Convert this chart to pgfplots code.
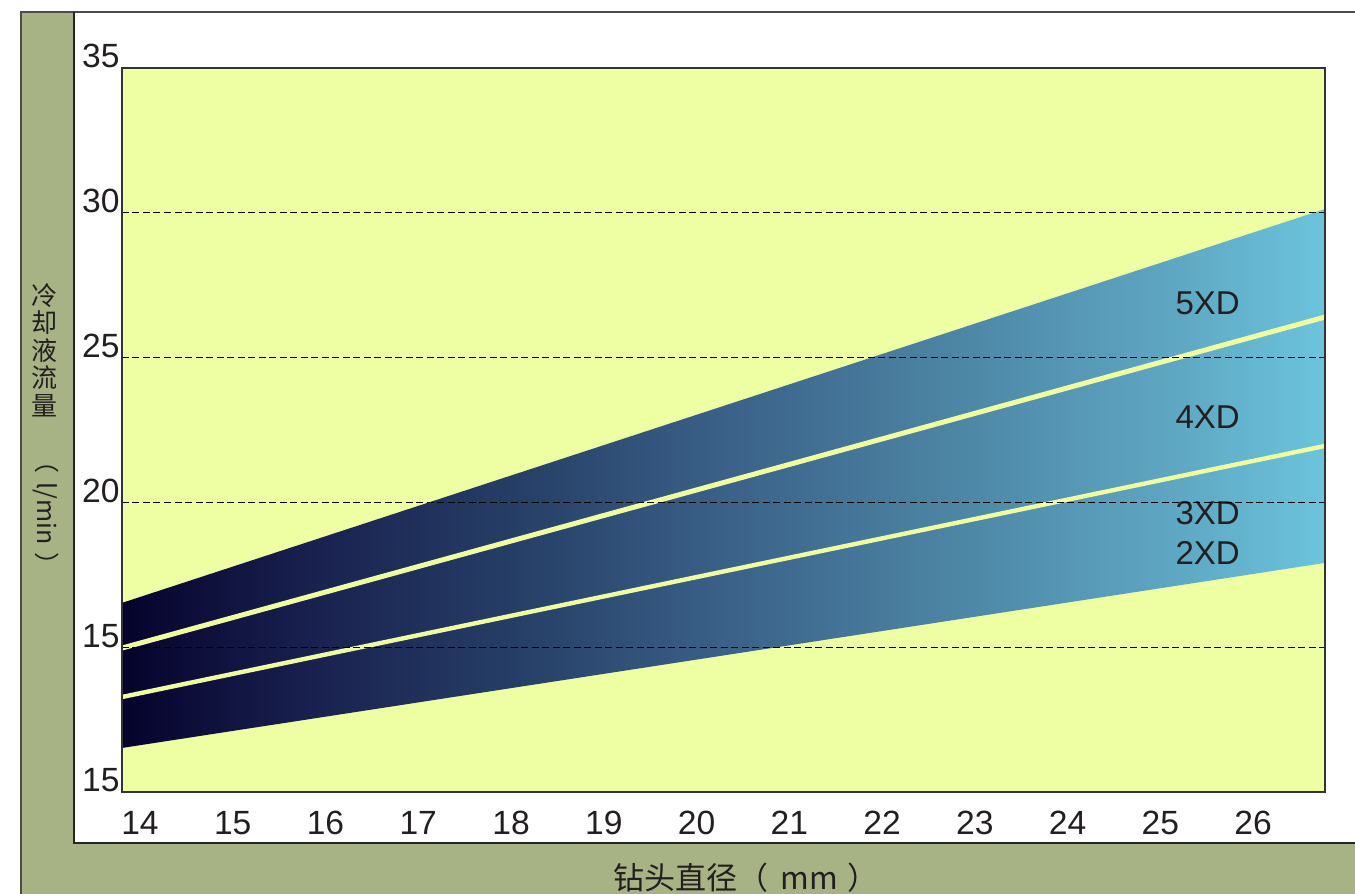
\documentclass[border=0pt]{standalone}
\usepackage{fontspec}
\setmainfont{Liberation Sans}
\newfontfamily\cjk{Noto Sans CJK SC}
\usepackage{pgfplots}
\pgfplotsset{compat=1.18}

\definecolor{frameolive}{HTML}{A8B385}
\definecolor{plotbg}{HTML}{EEFEA2}
\definecolor{sepline}{HTML}{F0FCA0}
\definecolor{ink}{HTML}{231F20}
% band gradient, dark navy -> light cyan
\definecolor{c0}{HTML}{05032C}
\definecolor{c1}{HTML}{1A2250}
\definecolor{c2}{HTML}{263F66}
\definecolor{c3}{HTML}{3A6088}
\definecolor{c4}{HTML}{4A80A0}
\definecolor{c5}{HTML}{5FA8C4}
\definecolor{c6}{HTML}{6CC4DC}
\pgfdeclarehorizontalshading{bandshade}{100bp}{color(0bp)=(c0); color(25bp)=(c0);
  color(33.2bp)=(c1); color(41.5bp)=(c2); color(49.8bp)=(c3); color(58.2bp)=(c4);
  color(69bp)=(c5); color(75bp)=(c6); color(100bp)=(c6)}

\begin{document}
\begin{tikzpicture}
\useasboundingbox (0,0) rectangle (677.5pt,447pt);
\fill[white] (0,0) rectangle (677.5pt,447pt);
% frame
\fill[frameolive] (10.5pt,0) rectangle (677.5pt,441pt);
\fill[white] (37pt,25.5pt) rectangle (677.5pt,441pt);
\draw[black!70, line width=0.6pt] (10.5pt,0) -- (10.5pt,441pt) -- (677.5pt,441pt);
\draw[black!85, line width=0.6pt] (37pt,441pt) -- (37pt,25.5pt) -- (677.5pt,25.5pt);

\begin{axis}[
    at={(61pt,51pt)}, anchor=south west,
    scale only axis,
    width=601.5pt, height=362pt,
    xmin=13.806, xmax=26.776,
    ymin=10, ymax=35,
    xtick={14,...,26},
    ytick={10,15,20,25,30,35},
    yticklabels={15,15,20,25,30,35}, % original labels the bottom one 15 as well
    axis background/.style={fill=plotbg},
    major tick length=0pt,
    ymajorgrids,
    grid style={black, line width=0.5pt, dash pattern=on 3.5pt off 1.75pt},
    axis on top,
    axis line style={black!80, line width=0.75pt},
    tick label style={font=\fontsize{16.8}{18}\selectfont, text=ink},
    /pgf/number format/assume math mode=true,
    yticklabel style={anchor=base east, inner sep=0pt, xshift=-1pt},
    xticklabel style={anchor=north, inner sep=0pt, yshift=-9.5pt},
]

  % band (2XD lower edge to 5XD upper edge)
  \addplot[draw=none, shading=bandshade] coordinates {
    (13.806,16.53) (26.776,30.13) (26.776,17.91) (13.806,11.52)
  } -- cycle;

  % separators 5XD/4XD and 4XD/3XD
  \addplot[sepline, line width=2.5pt] coordinates {(13.806,14.97) (26.776,26.40)};
  \addplot[sepline, line width=2.2pt] coordinates {(13.806,13.28) (26.776,21.95)};

  \node[anchor=west, inner sep=0pt, text=ink, font=\fontsize{16.5}{18}\selectfont] at (axis cs:25.16,26.89) {5XD};
  \node[anchor=west, inner sep=0pt, text=ink, font=\fontsize{16.5}{18}\selectfont] at (axis cs:25.16,22.95) {4XD};
  \node[anchor=west, inner sep=0pt, text=ink, font=\fontsize{16.5}{18}\selectfont] at (axis cs:25.16,19.63) {3XD};
  \node[anchor=west, inner sep=0pt, text=ink, font=\fontsize{16.5}{18}\selectfont] at (axis cs:25.16,18.25) {2XD};
\end{axis}

% axis titles
\node[text=ink, align=center, inner sep=0pt, font=\cjk\fontsize{13}{13.75}\selectfont] at (22.5pt,272pt) {冷\\却\\液\\流\\量};
\node[text=ink, rotate=-90, inner sep=0pt, font=\cjk\fontsize{12.5}{14}\selectfont] at (23pt,190.5pt) {（\hspace{0.35em}l/min\hspace{0.3em}）};
\node[text=ink, inner sep=0pt, font=\cjk\fontsize{15.5}{17}\selectfont] at (373pt,8pt) {钻头直径（\hspace{0.4em}mm\hspace{0.3em}）};
\end{tikzpicture}
\end{document}
